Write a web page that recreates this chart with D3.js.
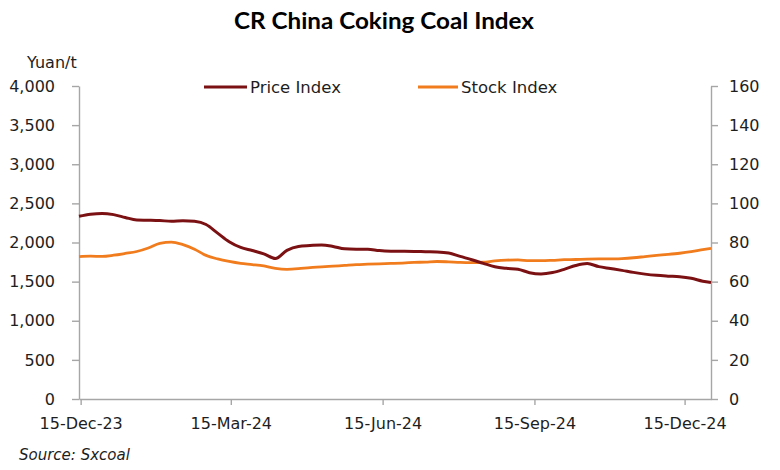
<!DOCTYPE html>
<html><head><meta charset="utf-8">
<script src="https://cdn.jsdelivr.net/npm/d3@7/dist/d3.min.js"></script>
<style>body{margin:0;background:#fff} svg{display:block}</style>
</head><body>
<svg id="chart" width="780" height="470"></svg>
<script>
const titleText = "CR China Coking Coal Index";
const seriesNames = ["Price Index", "Stock Index"];
const dates = [
  "2023-12-14","2023-12-21","2023-12-28","2024-01-04","2024-01-11","2024-01-18","2024-01-25",
  "2024-02-01","2024-02-08","2024-02-15","2024-02-22","2024-02-29","2024-03-07","2024-03-14",
  "2024-03-21","2024-03-28","2024-04-04","2024-04-11","2024-04-18","2024-04-25","2024-05-02",
  "2024-05-09","2024-05-16","2024-05-23","2024-05-30","2024-06-06","2024-06-13","2024-06-20",
  "2024-06-27","2024-07-04","2024-07-11","2024-07-18","2024-07-25","2024-08-01","2024-08-08",
  "2024-08-15","2024-08-22","2024-08-29","2024-09-05","2024-09-12","2024-09-19","2024-09-26",
  "2024-10-03","2024-10-10","2024-10-17","2024-10-24","2024-10-31","2024-11-07","2024-11-14",
  "2024-11-21","2024-11-28","2024-12-05","2024-12-12","2024-12-19","2024-12-26","2024-12-31"
];
const priceIndex = [
  2335,2362,2372,2356,2320,2287,2284,2280,2272,2278,2271,2230,2120,2010,
  1937,1898,1855,1795,1900,1950,1961,1969,1950,1920,1915,1914,1897,1889,
  1887,1886,1882,1879,1866,1822,1780,1734,1690,1670,1659,1614,1598,1616,
  1657,1706,1731,1692,1668,1644,1618,1596,1580,1570,1562,1542,1506,1490
];
const stockIndex = [
  72.8,73.0,72.9,73.5,74.4,75.4,77.2,79.6,80.2,78.9,76.6,73.4,71.6,70.3,
  69.3,68.7,68.0,66.8,66.3,66.6,67.2,67.5,67.9,68.3,68.7,68.9,69.1,69.3,
  69.5,69.8,70.0,70.3,70.1,69.8,69.7,69.9,70.6,71.0,71.1,70.7,70.7,70.9,
  71.2,71.3,71.5,71.6,71.6,71.8,72.2,72.8,73.4,73.9,74.5,75.3,76.3,77.0
];
const leftTicks = [0,500,1000,1500,2000,2500,3000,3500,4000];
const rightTicks = [0,20,40,60,80,100,120,140,160];
const xTickDates = ["2023-12-15","2024-03-15","2024-06-15","2024-09-15","2024-12-15"];
const xDomain = ["2023-12-14","2024-12-31"];
const leftUnit = "Yuan/t";
const sourceText = "Source: Sxcoal";

const parse = d3.timeParse("%Y-%m-%d");
const plot = {left: 79, right: 711, top: 86, bottom: 399};
const FONT = "'DejaVu Sans', Verdana, sans-serif";
const AXIS_COLOR = "#a6a6a6";
const TEXT_COLOR = "#1e1e1e";
const PRICE_COLOR = "#7b1113";
const STOCK_COLOR = "#f07c1e";

const svg = d3.select("#chart");

const x = d3.scaleTime().domain(xDomain.map(parse)).range([plot.left, plot.right]);
const yL = d3.scaleLinear().domain([0, 4000]).range([plot.bottom, plot.top]);
const yR = d3.scaleLinear().domain([0, 160]).range([plot.bottom, plot.top]);

function styleAxis(g) {
  g.select(".domain").attr("stroke", AXIS_COLOR).attr("stroke-width", 1.4);
  g.selectAll(".tick line").attr("stroke", AXIS_COLOR).attr("stroke-width", 1.4);
  g.selectAll(".tick text").attr("fill", TEXT_COLOR).style("font-family", FONT).style("font-size", "16px");
}

svg.append("g").attr("transform", `translate(${plot.left},0)`)
  .call(d3.axisLeft(yL).tickValues(leftTicks).tickFormat(d3.format(",")).tickSize(7).tickSizeOuter(0).tickPadding(17))
  .call(styleAxis);

svg.append("g").attr("transform", `translate(${plot.right},0)`)
  .call(d3.axisRight(yR).tickValues(rightTicks).tickFormat(d3.format("d")).tickSize(7).tickSizeOuter(0).tickPadding(11))
  .call(styleAxis);

svg.append("g").attr("transform", `translate(0,${plot.bottom})`)
  .call(d3.axisBottom(x).tickValues(xTickDates.map(parse)).tickFormat(d3.timeFormat("%d-%b-%y")).tickSize(6).tickSizeOuter(0).tickPadding(13))
  .call(styleAxis);

const data = dates.map((d, i) => ({date: parse(d), price: priceIndex[i], stock: stockIndex[i]}));
const linePrice = d3.line().x(d => x(d.date)).y(d => yL(d.price)).curve(d3.curveMonotoneX);
const lineStock = d3.line().x(d => x(d.date)).y(d => yR(d.stock)).curve(d3.curveMonotoneX);

svg.append("path").datum(data).attr("d", lineStock)
  .attr("fill", "none").attr("stroke", STOCK_COLOR).attr("stroke-width", 2.8).attr("stroke-linejoin", "round");
svg.append("path").datum(data).attr("d", linePrice)
  .attr("fill", "none").attr("stroke", PRICE_COLOR).attr("stroke-width", 3).attr("stroke-linejoin", "round");

svg.append("text").attr("x", 384).attr("y", 29).attr("text-anchor", "middle")
  .style("font-family", "Lato, 'Open Sans', sans-serif").style("font-weight", "bold").style("font-size", "22px")
  .attr("textLength", 300).attr("lengthAdjust", "spacingAndGlyphs")
  .attr("fill", "#000").text(titleText);

svg.append("text").attr("x", 27).attr("y", 68)
  .style("font-family", FONT).style("font-size", "16px").attr("fill", TEXT_COLOR).text(leftUnit);

const legendItems = [
  {name: seriesNames[0], color: PRICE_COLOR, x1: 204, x2: 247},
  {name: seriesNames[1], color: STOCK_COLOR, x1: 418, x2: 458}
];
const lg = svg.append("g");
legendItems.forEach(it => {
  lg.append("line").attr("x1", it.x1).attr("x2", it.x2).attr("y1", 87).attr("y2", 87)
    .attr("stroke", it.color).attr("stroke-width", 3);
  lg.append("text").attr("x", it.x2 + 3).attr("y", 93)
    .style("font-family", FONT).style("font-size", "16.5px").attr("fill", TEXT_COLOR).text(it.name);
});

svg.append("text").attr("x", 19).attr("y", 460)
  .style("font-family", FONT).style("font-style", "italic").style("font-size", "15px")
  .attr("fill", TEXT_COLOR).text(sourceText);
</script>
</body></html>
